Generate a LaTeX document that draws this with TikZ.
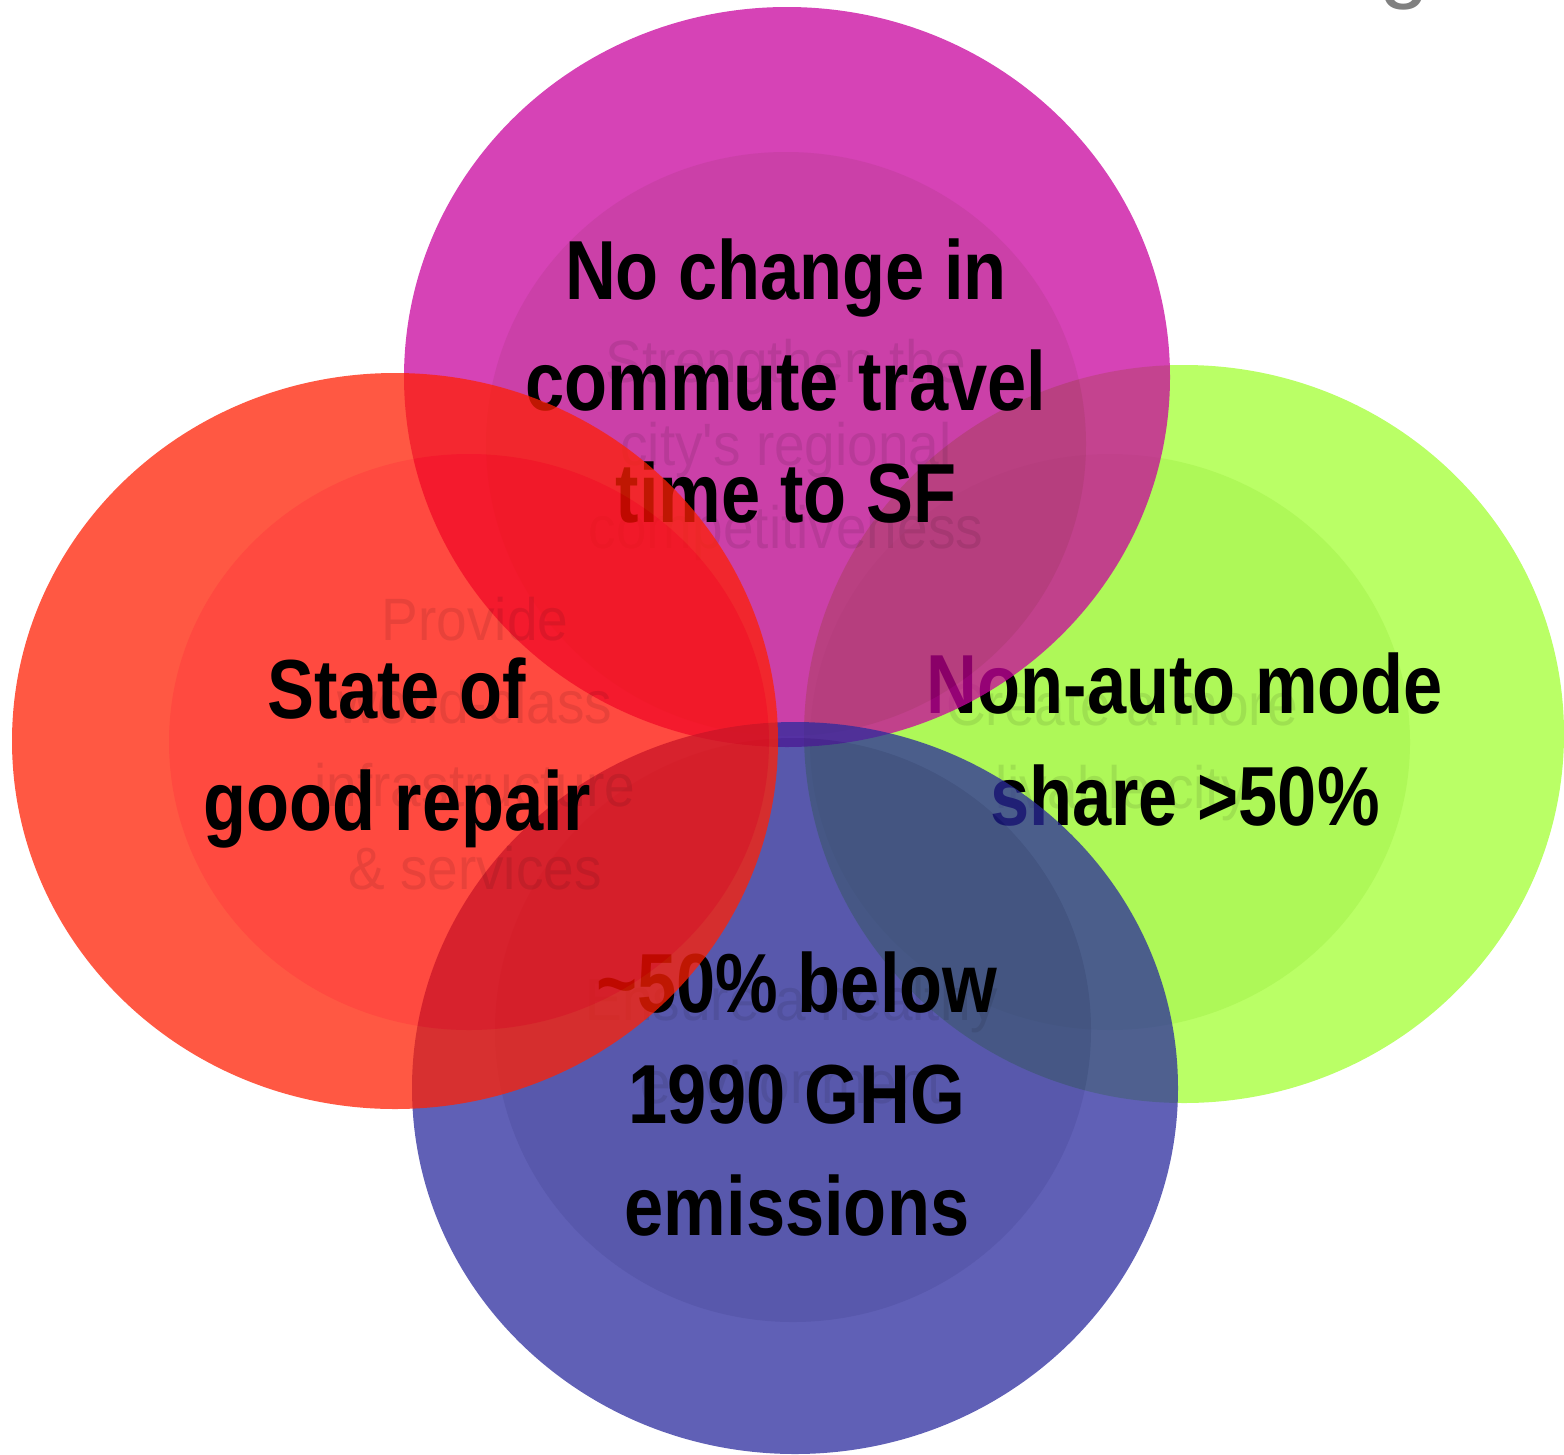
\documentclass[tikz,border=0pt]{standalone}
\usepackage{fontspec}
\setmainfont{Liberation Sans}
\newfontfamily\goalfamily[FakeStretch=0.84]{Liberation Sans}
\newfontfamily\aimfamily[FakeStretch=0.92]{Liberation Sans}
\usetikzlibrary{positioning}

\definecolor{goalgreen}{RGB}{163,255,51}
\definecolor{goalgreenin}{RGB}{147,245,32}
\definecolor{goalmagenta}{RGB}{200,4,157}
\definecolor{goalmagentain}{RGB}{185,0,139}
\definecolor{goalblue}{RGB}{43,43,157}
\definecolor{goalbluein}{RGB}{32,32,144}
\definecolor{goalred}{RGB}{255,32,4}
\definecolor{goalredin}{RGB}{255,13,0}

\newcommand\goalfont{\goalfamily\bfseries\fontsize{59.6}{79}\selectfont}
\newcommand\aimfont{\aimfamily\fontsize{42.5}{59}\selectfont}

\begin{document}
\begin{tikzpicture}[x=0.025cm, y=-0.025cm]
	\tikzset{goal/.style={font=\goalfont, align=center, anchor=base, inner sep=0pt},
		aim/.style={font=\aimfont, align=center, anchor=base, inner sep=0pt, text opacity=0.09},
		disc/.style={transparency group, opacity=0.75} }
	\useasboundingbox (0,0) rectangle (1564,1454);

	% title running off the top
	\node[anchor=base, text=black!50, font=\fontsize{64}{64}\selectfont] (title) at (1405,-9) {g};

	% livable city
	\begin{scope}[disc]
		\fill[goalgreen] (1184,734) ellipse [x radius=380, y radius=369];
		\fill[goalgreenin] (1110,742) ellipse [x radius=300, y radius=288];
	\end{scope}
	\node[aim] (livable) at (1122,808) {Create a more\\livable city};
	\node[goal] (mode) at (1185,825) {Non-auto mode\\share >50\%};

	% regional competitiveness
	\begin{scope}[disc]
		\fill[goalmagenta] (787,377) ellipse [x radius=383, y radius=370];
		\fill[goalmagentain] (786,444) ellipse [x radius=300, y radius=292];
	\end{scope}
	\node[aim] (regional) at (786,548) {Strengthen the\\city's regional\\competitiveness};
	\node[goal] (commute) at (786,522) {No change in\\commute travel\\time to SF};

	% healthy environment
	\begin{scope}[disc]
		\fill[goalblue] (795,1088) ellipse [x radius=383, y radius=366];
		\fill[goalbluein] (793,1030) ellipse [x radius=298, y radius=292];
	\end{scope}
	\node[aim] (healthy) at (792,1103) {Ensure a healthy\\environment};
	\node[goal] (ghg) at (797,1235) {\textasciitilde50\% below\\1990 GHG\\emissions};

	% infrastructure and services
	\begin{scope}[disc]
		\fill[goalred] (395,741) ellipse [x radius=383, y radius=368];
		\fill[goalredin] (469,742) ellipse [x radius=300, y radius=288];
	\end{scope}
	\node[aim] (services) at (475,889) {Provide\\world-class\\infrastructure\\\& services};
	\node[goal] (repair) at (397,830) {State of\\good repair};
\end{tikzpicture}
\end{document}
